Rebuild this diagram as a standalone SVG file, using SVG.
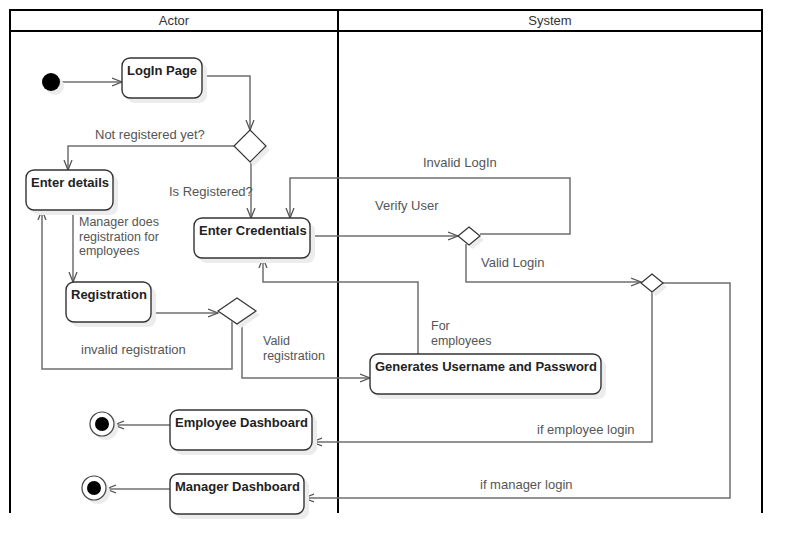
<svg xmlns="http://www.w3.org/2000/svg" width="802" height="554" viewBox="0 0 802 554">
<style>
.lane{fill:none;stroke:#000;stroke-width:2}
.hdr{font-family:"Liberation Sans",Arial,sans-serif;font-size:13px;fill:#333;text-anchor:middle}
.box{fill:#fff;stroke:#333;stroke-width:1.4}
.sh{fill:#ececec}
.nt{font-family:"Liberation Sans",Arial,sans-serif;font-size:13px;font-weight:bold;fill:#222}
.lbl{font-family:"Liberation Sans",Arial,sans-serif;font-size:13px;fill:#555}
.ml{font-size:12.5px}
.edge{fill:none;stroke:#6f6f6f;stroke-width:1.5;marker-end:url(#arr)}
.dia{fill:#fff;stroke:#333;stroke-width:1.2}
</style>
<defs>
<marker id="arr" markerUnits="userSpaceOnUse" markerWidth="12" markerHeight="12" refX="10" refY="5" orient="auto">
<path d="M0,1 L10,5 L0,9" fill="none" stroke="#555" stroke-width="1.3"/>
</marker>
</defs>
<rect width="802" height="554" fill="#fff"/>
<g id="swimlanes">
<path class="lane" d="M10,513 V10 H762 V513 M10,31 H762 M338,10 V513"/>
<text class="hdr" x="174" y="25">Actor</text>
<text class="hdr" x="550" y="25">System</text>
</g>
<g id="connectors">
<path class="edge" d="M60,82 H122"/>
<path class="edge" d="M202,76 H250 V130"/>
<path class="edge" d="M234,146 H68 V170"/>
<path class="edge" d="M251,162 V218"/>
<path class="edge" d="M73,210 V282"/>
<path class="edge" d="M151,313 H218"/>
<path class="edge" d="M232,321 V369 H42 V210"/>
<path class="edge" d="M242,321 V378 H370"/>
<path class="edge" d="M310,236 H458"/>
<path class="edge" d="M480,234 H570 V178 H290 V218"/>
<path class="edge" d="M466,244 V282 H641"/>
<path class="edge" d="M418,354 V282 H263 V258"/>
<path class="edge" d="M652,292 V442 H312"/>
<path class="edge" d="M663,283 H730 V498 H304"/>
<path class="edge" d="M170,425 H114"/>
<path class="edge" d="M170,489 H106"/>
<text class="lbl" x="95" y="139">Not registered yet?</text>
<text class="lbl" x="169" y="196">Is Registered?</text>
<text class="lbl ml" x="79" y="226">Manager does<tspan x="79" dy="14.5">registration for</tspan><tspan x="79" dy="14.5">employees</tspan></text>
<text class="lbl" x="81" y="354">invalid registration</text>
<text class="lbl ml" x="263" y="345">Valid<tspan x="263" dy="14.5">registration</tspan></text>
<text class="lbl" x="423" y="167">Invalid LogIn</text>
<text class="lbl" x="375" y="210">Verify User</text>
<text class="lbl" x="481" y="267">Valid Login</text>
<text class="lbl ml" x="431" y="330">For<tspan x="431" dy="14.5">employees</tspan></text>
<text class="lbl" x="537" y="434">if employee login</text>
<text class="lbl" x="480" y="489">if manager login</text>
</g>
<g id="start">
<circle class="sh" cx="55" cy="86" r="9"/>
<circle cx="51" cy="82" r="9" fill="#000"/>
</g>
<g id="login-page">
<rect class="sh" x="127" y="63" width="80" height="40" rx="8"/>
<rect class="box" x="122" y="58" width="80" height="40" rx="8"/>
<text class="nt" x="127" y="75">LogIn Page</text>
</g>
<g id="decision-registered">
<polygon class="sh" points="254,134 270,150 254,166 238,150"/>
<polygon class="dia" points="250,130 266,146 250,162 234,146"/>
</g>
<g id="enter-details">
<rect class="sh" x="31" y="175" width="87" height="40" rx="8"/>
<rect class="box" x="26" y="170" width="87" height="40" rx="8"/>
<text class="nt" x="31" y="187">Enter details</text>
</g>
<g id="enter-credentials">
<rect class="sh" x="199" y="223" width="116" height="40" rx="8"/>
<rect class="box" x="194" y="218" width="116" height="40" rx="8"/>
<text class="nt" x="199" y="235">Enter Credentials</text>
</g>
<g id="registration">
<rect class="sh" x="71" y="287" width="85" height="40" rx="8"/>
<rect class="box" x="66" y="282" width="85" height="40" rx="8"/>
<text class="nt" x="71" y="299">Registration</text>
</g>
<g id="decision-registration">
<polygon class="sh" points="241,302 260,315 241,328 222,315"/>
<polygon class="dia" points="237,298 256,311 237,324 218,311"/>
</g>
<g id="decision-verify">
<polygon class="sh" points="473,231 484,240 473,249 462,240"/>
<polygon class="dia" points="469,227 480,236 469,245 458,236"/>
</g>
<g id="decision-role">
<polygon class="sh" points="656,278 667,287 656,296 645,287"/>
<polygon class="dia" points="652,274 663,283 652,292 641,283"/>
</g>
<g id="generates">
<rect class="sh" x="375" y="359" width="231" height="40" rx="8"/>
<rect class="box" x="370" y="354" width="231" height="40" rx="8"/>
<text class="nt" x="375" y="371">Generates Username and Password</text>
</g>
<g id="employee-dashboard">
<rect class="sh" x="175" y="415" width="142" height="40" rx="8"/>
<rect class="box" x="170" y="410" width="142" height="40" rx="8"/>
<text class="nt" x="175" y="427">Employee Dashboard</text>
</g>
<g id="manager-dashboard">
<rect class="sh" x="175" y="479" width="134" height="40" rx="8"/>
<rect class="box" x="170" y="474" width="134" height="40" rx="8"/>
<text class="nt" x="175" y="491">Manager Dashboard</text>
</g>
<g id="end-employee">
<circle class="sh" cx="106" cy="428" r="12"/>
<circle cx="102" cy="424" r="12" fill="#fff" stroke="#444" stroke-width="1.2"/>
<circle cx="102" cy="424" r="7" fill="#000"/>
</g>
<g id="end-manager">
<circle class="sh" cx="98" cy="492" r="12"/>
<circle cx="94" cy="488" r="12" fill="#fff" stroke="#444" stroke-width="1.2"/>
<circle cx="94" cy="488" r="7" fill="#000"/>
</g>
</svg>
